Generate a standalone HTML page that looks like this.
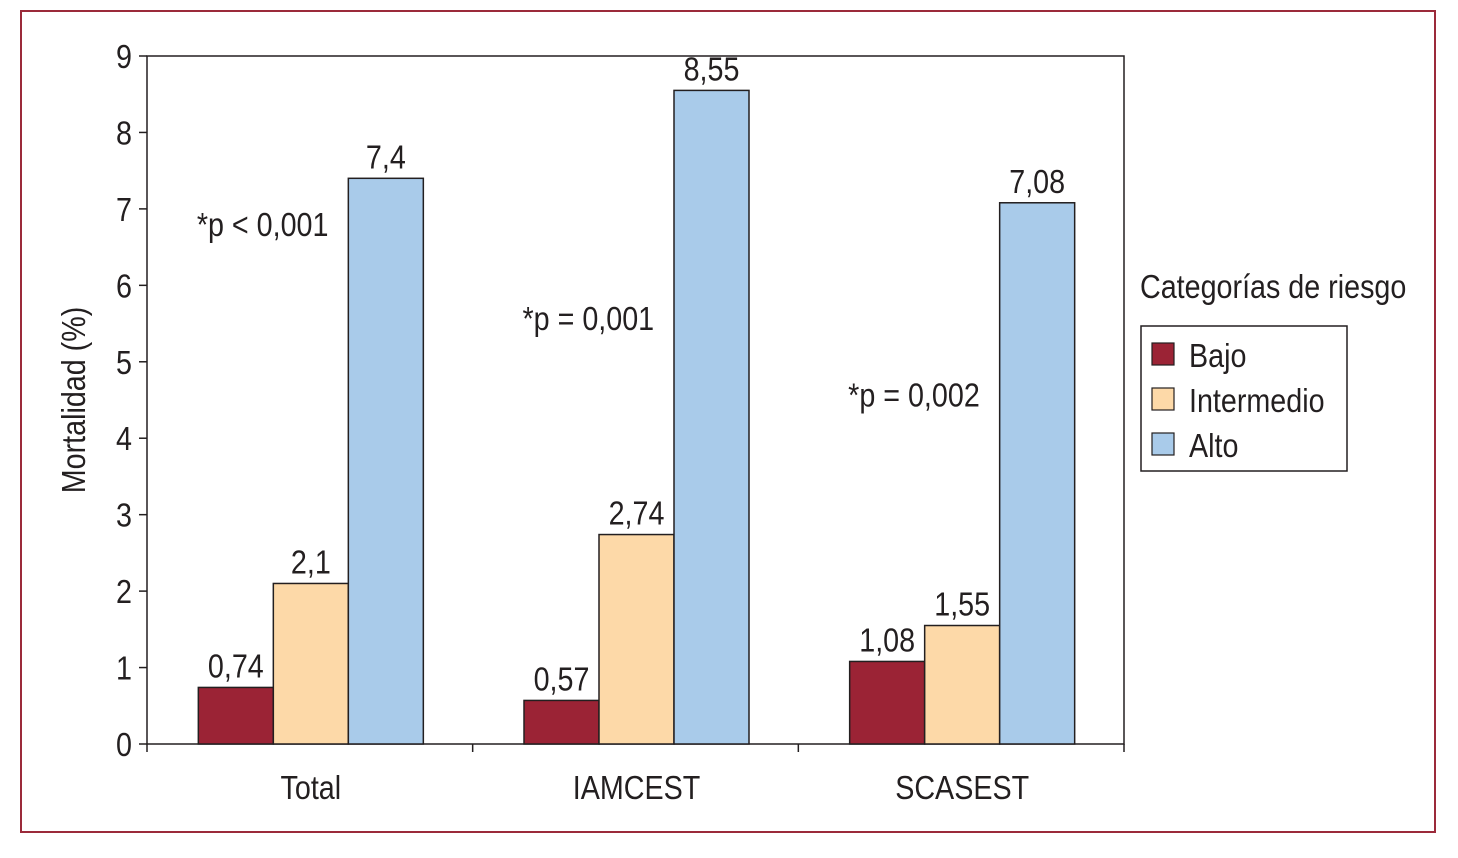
<!DOCTYPE html>
<html><head><meta charset="utf-8">
<style>
html,body{margin:0;padding:0;background:#fff;}
svg{display:block;}
text{font-family:"Liberation Sans",sans-serif;fill:#231f20;}
</style></head>
<body>
<svg id="chart" width="1458" height="858" viewBox="0 0 1458 858" xmlns="http://www.w3.org/2000/svg">
<rect x="21" y="11" width="1414" height="821" fill="none" stroke="#9b2a3a" stroke-width="2"/>
<g id="plot"></g>
</svg>
<script>
const categories = ["Total","IAMCEST","SCASEST"];
const seriesNames = ["Bajo","Intermedio","Alto"];
const bajo = [0.74,0.57,1.08];
const intermedio = [2.1,2.74,1.55];
const alto = [7.4,8.55,7.08];
const bajoLabels = ["0,74","0,57","1,08"];
const intermedioLabels = ["2,1","2,74","1,55"];
const altoLabels = ["7,4","8,55","7,08"];
const yTicks = [0,1,2,3,4,5,6,7,8,9];
const annotations = ["*p < 0,001","*p = 0,001","*p = 0,002"];
const annotationY = [6.8,5.57,4.57];

const NS="http://www.w3.org/2000/svg";
const g=document.getElementById('plot');
const X0=147,X1=1124,Y0=744,Y1=56,YMAX=9;
const SX=0.87;
const FS=33;
const colors=["#9b2335","#fdd9a8","#a9cbea"];
const yS=v=>Y0-(v/YMAX)*(Y0-Y1);
const groupW=(X1-X0)/categories.length;
const barW=75;
const xC=i=>X0+groupW*(i+0.5)+1;
function mk(tag,attrs,txt){const e=document.createElementNS(NS,tag);for(const k in attrs)e.setAttribute(k,attrs[k]);if(txt!==undefined)e.textContent=txt;g.appendChild(e);return e;}
function txt(x,y,s,anchor,size,rot){
  return mk('text',{x:0,y:0,"text-anchor":anchor,"font-size":size,transform:`translate(${x},${y})`+(rot?` rotate(${rot})`:'')+` scale(${SX},1)`},s);
}

let f=mk('rect',{x:X0,y:Y1,width:X1-X0,height:Y0-Y1,fill:"none",stroke:"#231f20","stroke-width":1.5});



yTicks.forEach(t=>{
  const y=yS(t);
  let l=mk('line',{x1:X0-8,x2:X0,y1:y,y2:y,stroke:"#231f20","stroke-width":1.5});
  
  
  let tx=txt(X0-15,y+12,String(t),"end",FS);
  
  
});
for(let i=0;i<=categories.length;i++){
  const x=X0+groupW*i;
  let l=mk('line',{x1:x,x2:x,y1:Y0,y2:Y0+8,stroke:"#231f20","stroke-width":1.5});
  
  
}
const series=[bajo,intermedio,alto];
const labels=[bajoLabels,intermedioLabels,altoLabels];
categories.forEach((c,i)=>{
  let ct=txt(xC(i),799,c,"middle",FS);
  
  
  series.forEach((s,j)=>{
    const x=xC(i)+(j-1.5)*barW;
    const y=yS(s[i]);
    let r=mk('rect',{x:x,y:y,width:barW,height:Y0-y,fill:colors[j],stroke:"#231f20","stroke-width":1.5});
    
    
    let vt=txt(x+barW/2,y-10,labels[j][i],"middle",FS);
    
    
  });
  let an=txt(xC(i)-114,yS(annotationY[i])+12,annotations[i],"start",FS);
  
  
});
let yt=txt(85,400,"Mortalidad (%)","middle",FS,-90);


let lt=txt(1140,298,"Categorías de riesgo","start",FS);


let lb=mk('rect',{x:1141,y:326,width:206,height:145,fill:"none",stroke:"#231f20","stroke-width":1.5});


seriesNames.forEach((n,j)=>{
  const y=343+j*45;
  let sw=mk('rect',{x:1152,y:y,width:22,height:22,fill:colors[j],stroke:"#231f20","stroke-width":1.2});
  
  
  let t=txt(1189,y+24,n,"start",FS);
  
  
});
</script>
</body></html>
